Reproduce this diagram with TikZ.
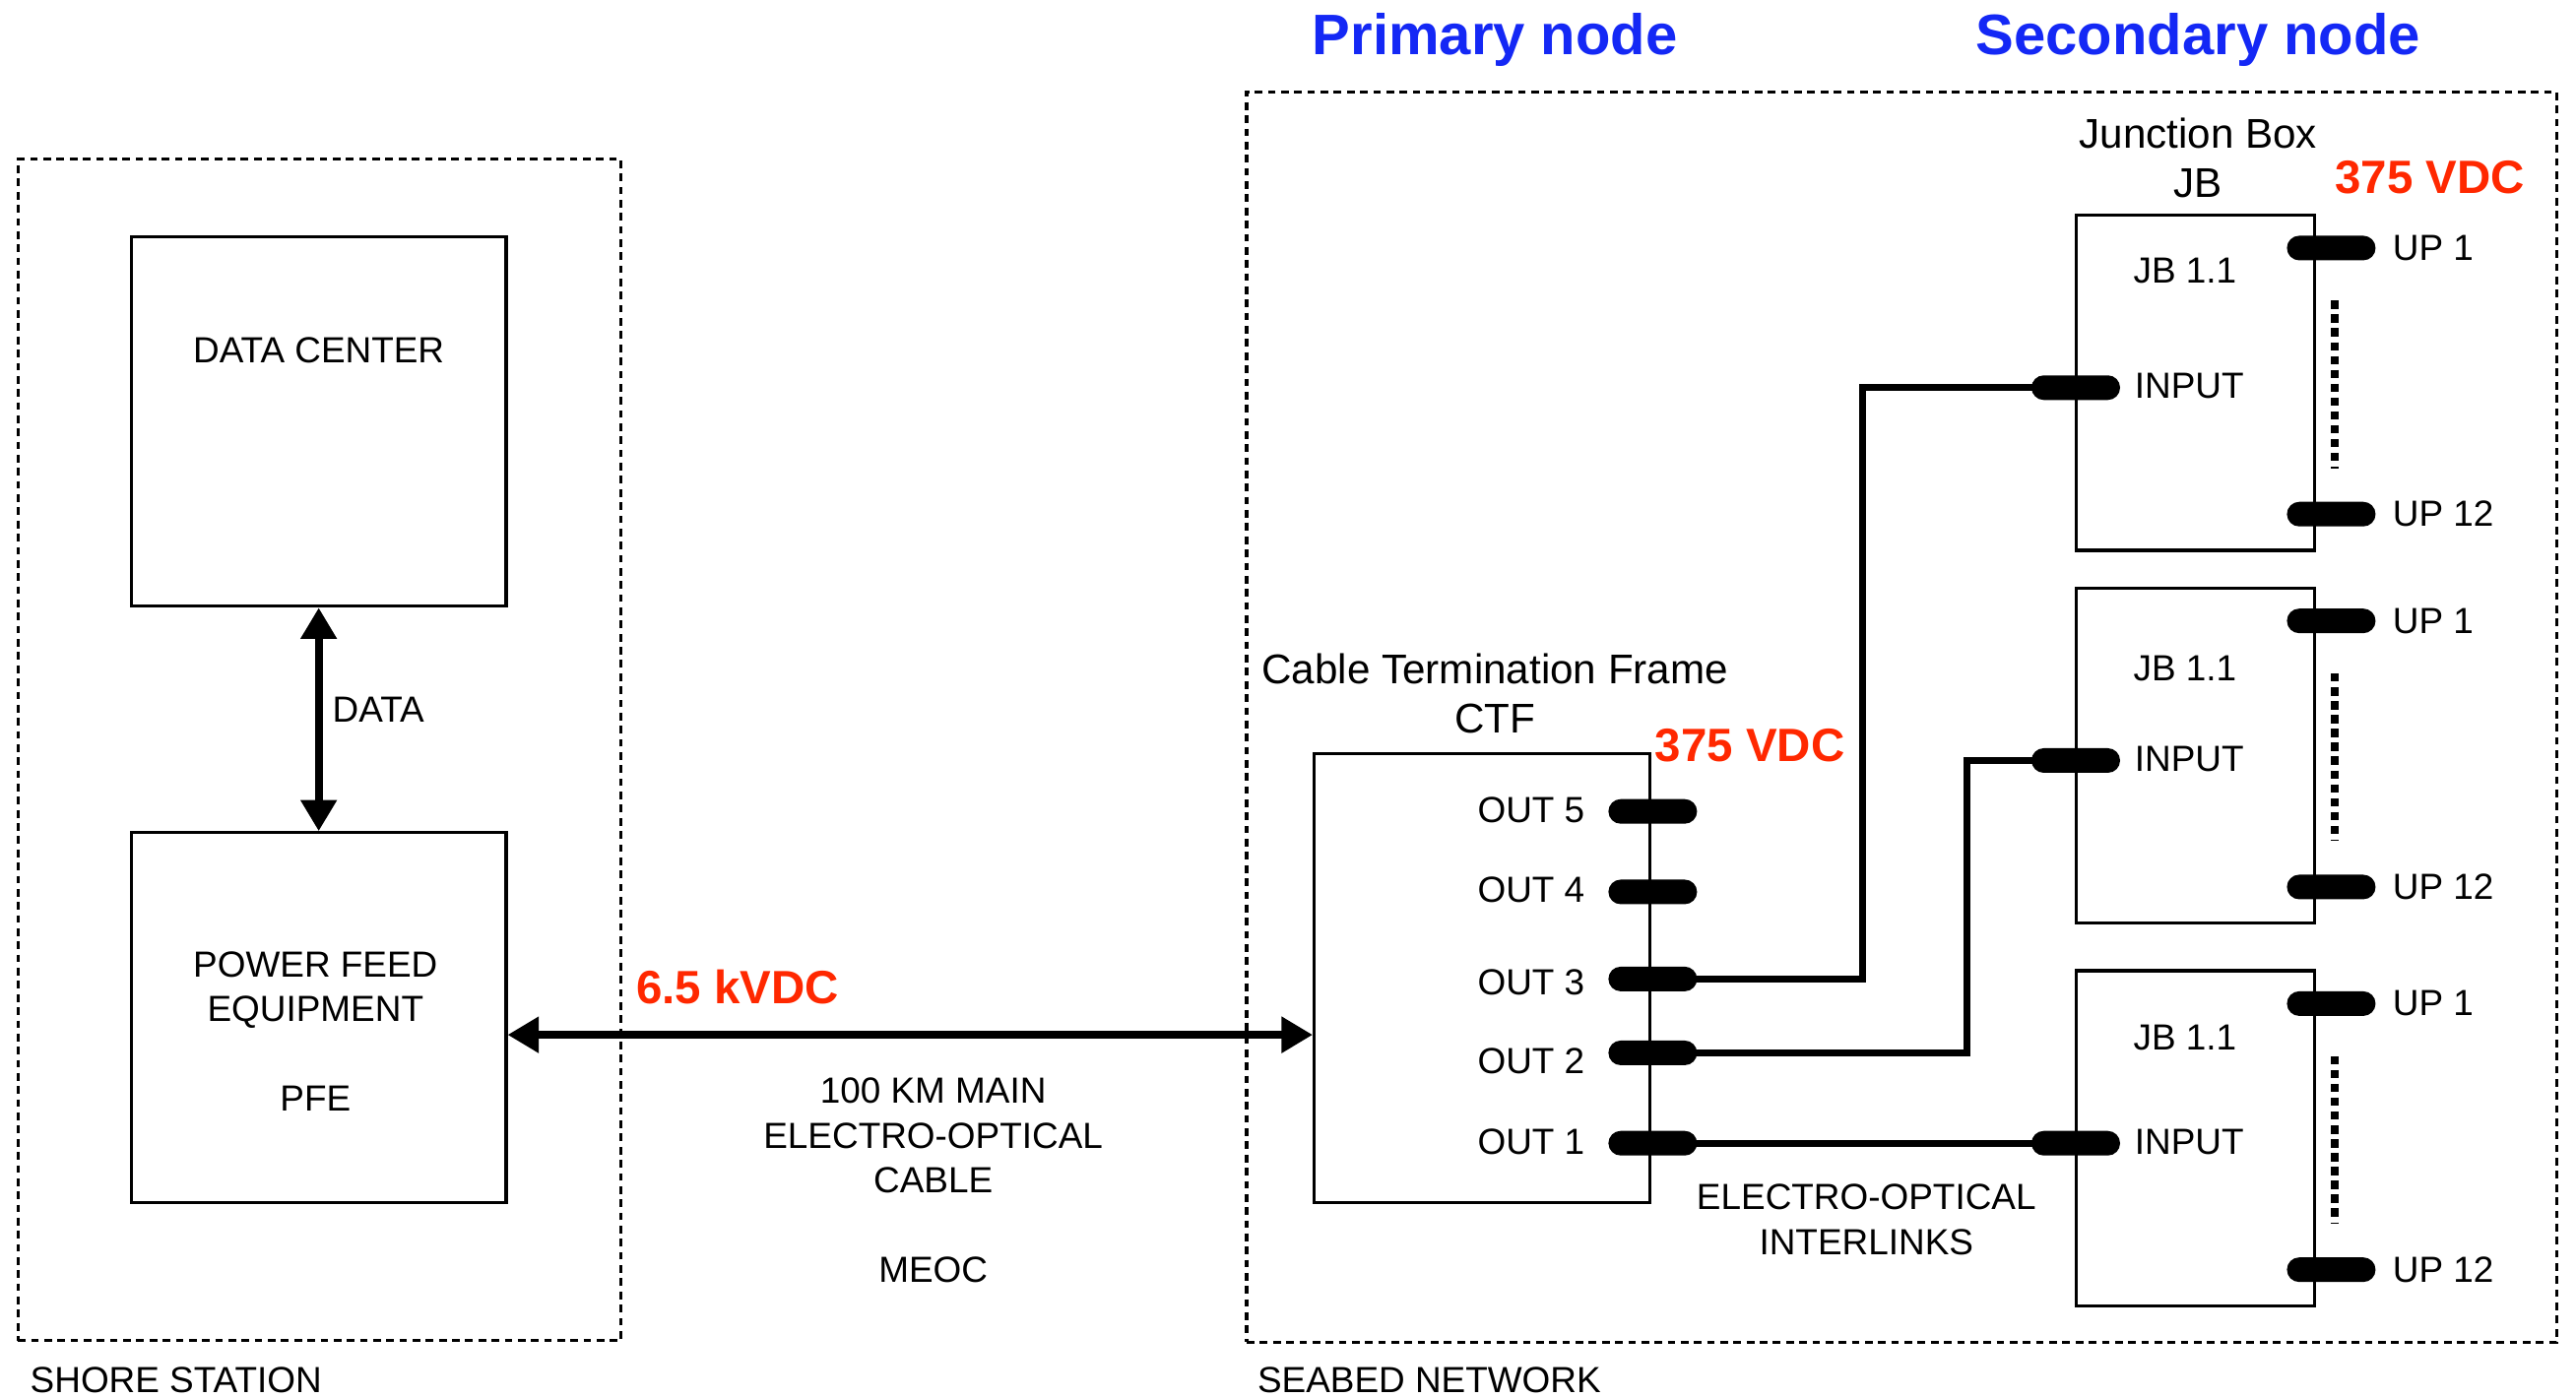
\documentclass[tikz,border=0pt]{standalone}
\usepackage{fontspec}
\setmainfont{Liberation Sans}
\usetikzlibrary{arrows.meta,calc}
\definecolor{nodeblue}{RGB}{20,40,245}
\definecolor{voltred}{RGB}{255,40,0}

\begin{document}
\begin{tikzpicture}[x=0.016684cm,y=-0.016684cm,
txt/.style={font=\fontsize{10.5}{12.9}\selectfont,inner sep=0,align=center},
capt/.style={font=\fontsize{12}{14.2}\selectfont,inner sep=0,align=center},
ttl/.style={font=\fontsize{16.5}{20}\selectfont\bfseries,text=nodeblue,inner sep=0},
volt/.style={font=\fontsize{13.5}{16}\selectfont\bfseries,text=voltred,inner sep=0,anchor=west},
blk/.style={draw,line width=.9pt,inner sep=0},
zone/.style={draw,line width=.9pt,dash pattern=on 2.2pt off 1.6pt,inner sep=0},
pill/.style={fill=black,rounded corners=.125cm,minimum width=.9cm,minimum height=.25cm,inner sep=0},
wire/.style={line width=2pt},
pwr/.style={line width=2.2pt,{Triangle[length=9pt,width=10pt]}-{Triangle[length=9pt,width=10pt]}},
dots/.style={line width=2.2pt,dash pattern=on 2.4pt off 1.6pt}]
\useasboundingbox(0,0)rectangle(1568,851);
\node[ttl](pn)at(910,24){Primary node};\node[ttl](sn)at(1338,24){Secondary node};
\node[zone,minimum width=6.123cm,minimum height=11.996cm](shore)at(194.5,456.5){};\node[txt,anchor=west](shl)at(18,840){SHORE STATION};
\node[blk,minimum width=3.804cm,minimum height=3.754cm](dc)at(194,256.5){};\node[txt](dct)at(194,213){DATA CENTER};
\node[blk,minimum width=3.804cm,minimum height=3.754cm](pfe)at(194,619.5){};\node[txt](pfet)at(192,628){POWER FEED\\EQUIPMENT\\[12.9pt]PFE};
\draw[pwr](dc.south)--(pfe.north);\node[txt,anchor=west](dl)at(202,432){DATA};
\node[zone,minimum width=13.297cm,minimum height=12.697cm](sea)at(1157.5,436.5){};\node[txt,anchor=west](sel)at(765,840){SEABED NETWORK};
\node[blk,minimum width=3.4035cm,minimum height=4.5547cm](ctf)at(902,595.5){};\node[capt](ctft)at(910,422){Cable Termination Frame\\CTF};\node[volt](v1)at(1007,454){375 VDC};
\draw[pwr]($(pfe.east)+(0,10.5)$)--($(ctf.west)+(0,34.5)$);\node[volt](v0)at(387,601){6.5 kVDC};
\node[txt](meoc)at(568,718.5){100 KM MAIN\\ELECTRO-OPTICAL\\CABLE\\[12.9pt]MEOC};
\foreach\n/\y/\ly in{5/494/493,4/543/542,3/596/598,2/641/646,1/696/695}{\node[txt,anchor=east](l\n)at(965,\ly){OUT \n};\node[pill](o\n)at(1006,\y){};}
\node[capt](jbt)at(1338,96){Junction Box\\JB};\node[volt](v2)at(1421,108){375 VDC};
\foreach\j/\y/\ty in{1/0/165,2/227/407,3/460/632}{
\node[blk,minimum width=2.4192cm,minimum height=3.4035cm](jb\j)at(1336.5,233+\y){};\node[txt](jbl\j)at(1330,\ty){JB 1.1};
\node[pill](in\j)at(1263.5,236+\y){};\node[txt,anchor=west](inl\j)at(1299,235+\y){INPUT};
\node[pill](ua\j)at(1419,151+\y){};\node[txt,anchor=west](ual\j)at(1456,151+\y){UP 1};
\node[pill](ub\j)at(1419,313+\y){};\node[txt,anchor=west](ubl\j)at(1456,313+\y){UP 12};
\draw[dots](1421,183+\y)--(1421,285+\y);}
\coordinate(k1)at(1134,0);\coordinate(k2)at(1197,0);
\draw[wire](o3.center)--(o3-|k1)|-(in1.center);\draw[wire](o2.center)--(o2-|k2)|-(in2.center);\draw[wire](o1.center)--(in3.center);
\node[txt](eoi)at(1136,742.5){ELECTRO-OPTICAL\\INTERLINKS};
\end{tikzpicture}
\end{document}
